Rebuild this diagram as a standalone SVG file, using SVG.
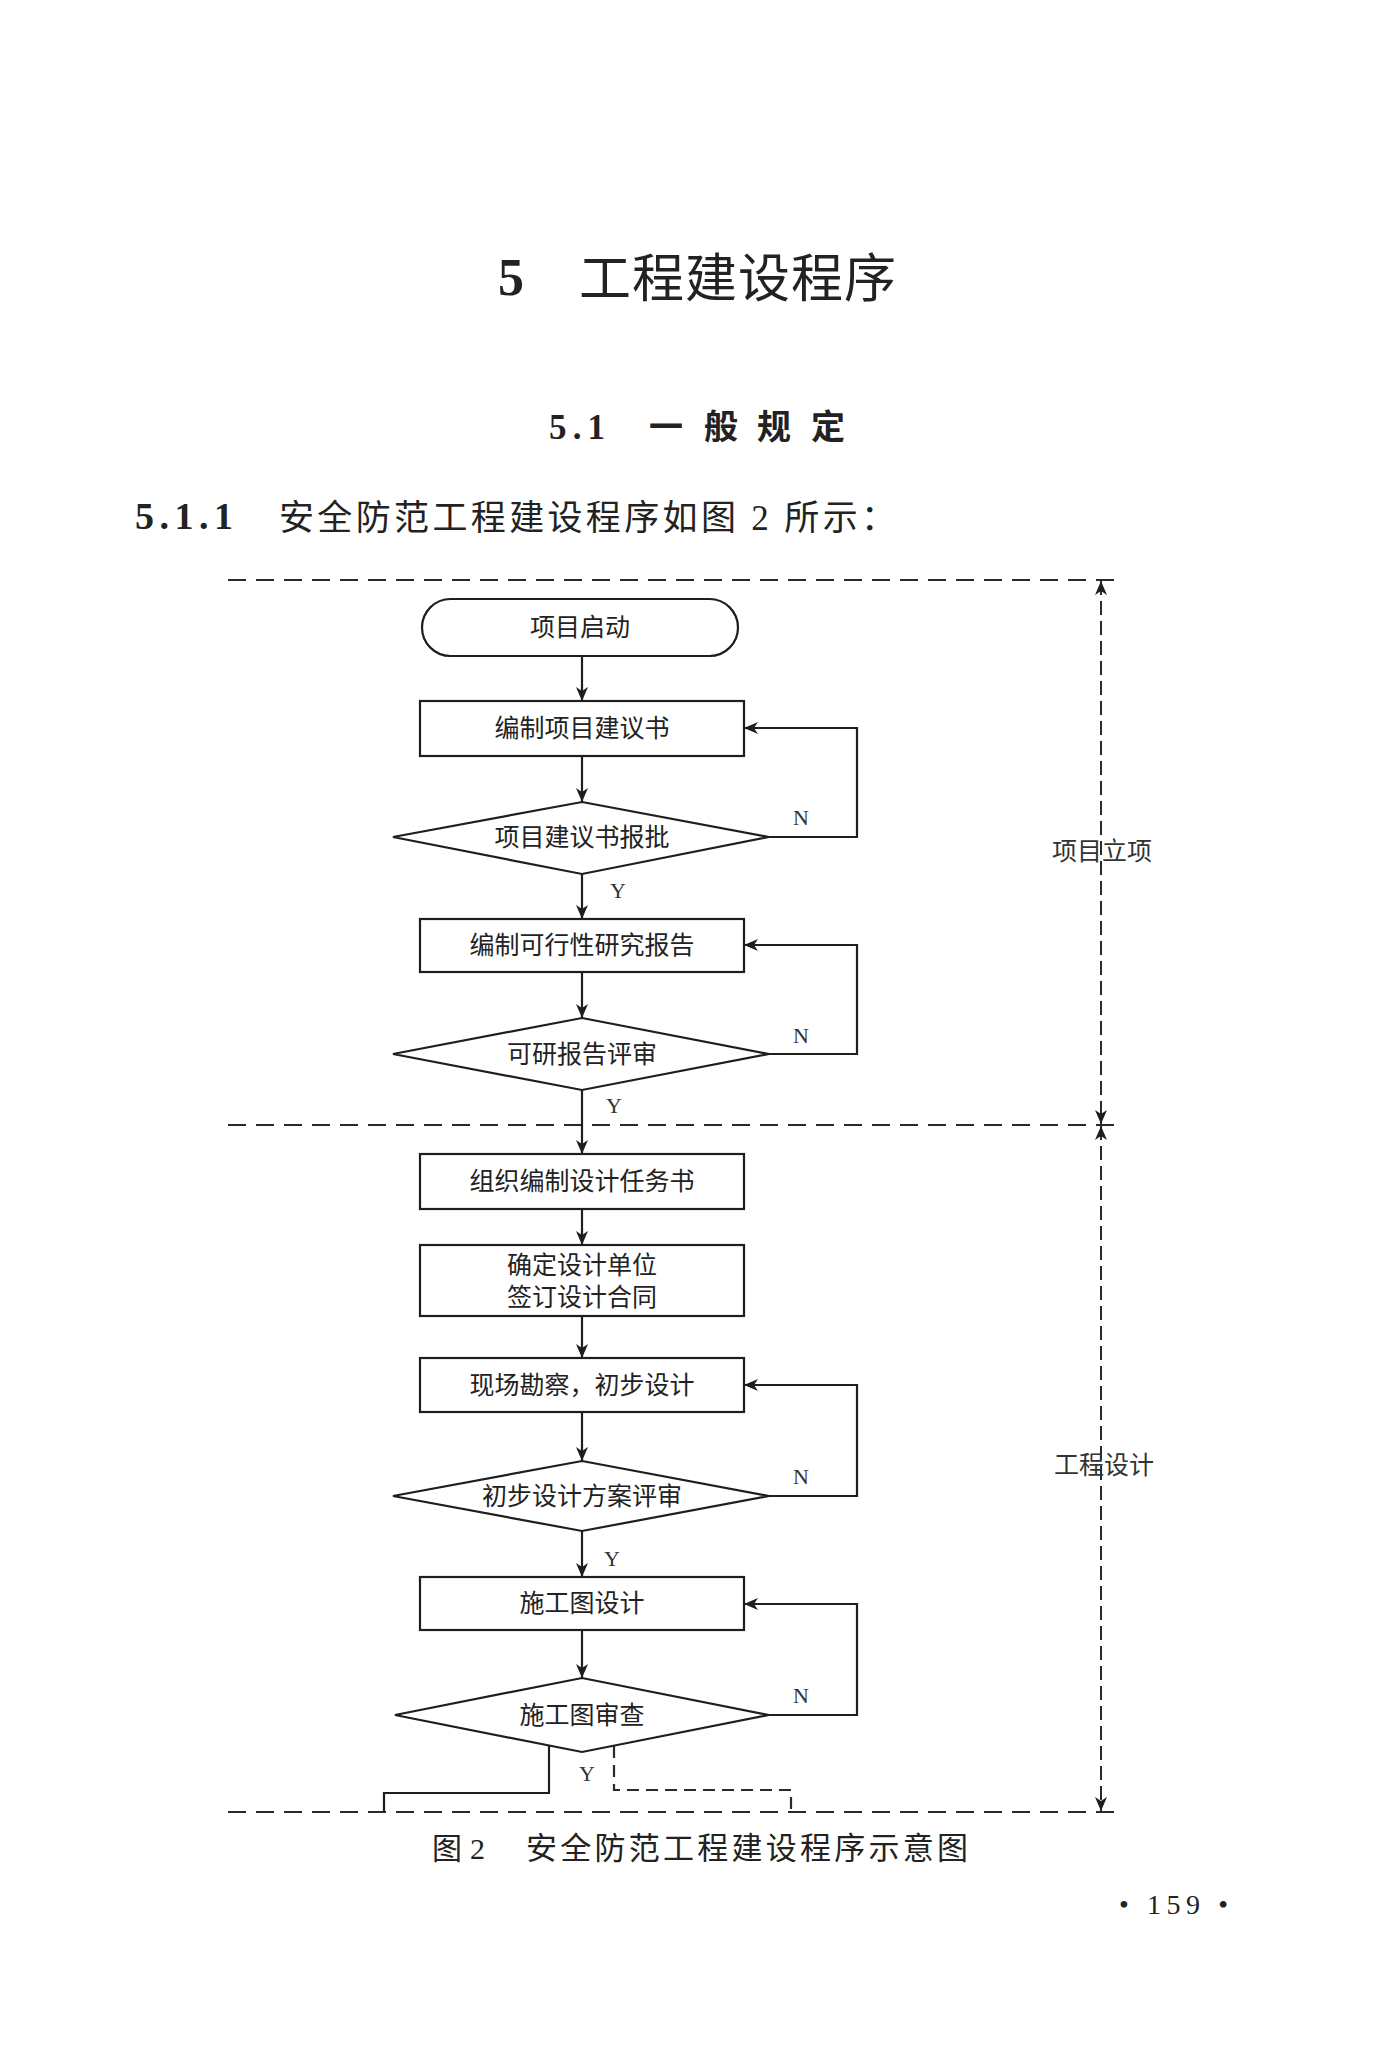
<svg xmlns="http://www.w3.org/2000/svg" width="1400" height="2048" viewBox="0 0 1400 2048">
<style>
.bg{fill:#ffffff}
.shape{fill:none;stroke:#1e1e1e;stroke-width:2.2}
.line{fill:none;stroke:#1e1e1e;stroke-width:2.2}
.dashH{fill:none;stroke:#2a2a2a;stroke-width:2.2;stroke-dasharray:18 10}
.dashV{fill:none;stroke:#2a2a2a;stroke-width:2;stroke-dasharray:14 6}
.dashS{fill:none;stroke:#2a2a2a;stroke-width:2.2;stroke-dasharray:12 7}
.t{font-family:"Liberation Serif","Noto Sans CJK SC",serif;fill:#222}
.box{font-size:25px;text-anchor:middle}
.yn{font-family:"Liberation Serif",serif;font-size:22px;fill:#333}
.side{font-size:25px;text-anchor:middle;fill:#333}
</style>
<defs>
<marker id="arr" markerUnits="userSpaceOnUse" markerWidth="15" markerHeight="12" refX="14" refY="6" orient="auto">
<path d="M0,0 L14,6 L0,12 L4,6 Z" fill="#1e1e1e"/>
</marker>
<marker id="arr2" markerUnits="userSpaceOnUse" markerWidth="15" markerHeight="12" refX="14" refY="6" orient="auto-start-reverse">
<path d="M0,0 L14,6 L0,12 L4,6 Z" fill="#1e1e1e"/>
</marker>
</defs>
<rect class="bg" x="0" y="0" width="1400" height="2048"/>

<g id="heading">
<text class="t" x="498" y="295" font-size="52" font-weight="bold">5</text>
<text class="t" x="579" y="297" font-size="52" textLength="317" lengthAdjust="spacing">工程建设程序</text>
<text class="t" x="549" y="439" font-size="35" font-weight="bold" textLength="56" lengthAdjust="spacing">5.1</text>
<text class="t" x="666" y="439" font-size="34" font-weight="bold" text-anchor="middle">一</text>
<text class="t" x="721" y="439" font-size="34" font-weight="bold" text-anchor="middle">般</text>
<text class="t" x="774" y="439" font-size="34" font-weight="bold" text-anchor="middle">规</text>
<text class="t" x="828" y="439" font-size="34" font-weight="bold" text-anchor="middle">定</text>
<text class="t" x="135" y="529" font-size="38" font-weight="bold" textLength="98" lengthAdjust="spacing">5.1.1</text>
<text class="t" x="279" y="530" font-size="35" textLength="617" lengthAdjust="spacing">安全防范工程建设程序如图 2 所示：</text>
</g>

<g id="frame">
<line class="dashH" x1="228" y1="580" x2="1116" y2="580"/>
<line class="dashH" x1="228" y1="1125" x2="1116" y2="1125"/>
<line class="dashH" x1="228" y1="1812" x2="1116" y2="1812"/>
</g>

<g id="connectors">
<line class="line" x1="582" y1="656" x2="582" y2="701" marker-end="url(#arr)"/>
<line class="line" x1="582" y1="756" x2="582" y2="802" marker-end="url(#arr)"/>
<line class="line" x1="582" y1="874" x2="582" y2="919" marker-end="url(#arr)"/>
<line class="line" x1="582" y1="972" x2="582" y2="1018" marker-end="url(#arr)"/>
<line class="line" x1="582" y1="1090" x2="582" y2="1154" marker-end="url(#arr)"/>
<line class="line" x1="582" y1="1209" x2="582" y2="1245" marker-end="url(#arr)"/>
<line class="line" x1="582" y1="1316" x2="582" y2="1358" marker-end="url(#arr)"/>
<line class="line" x1="582" y1="1412" x2="582" y2="1461" marker-end="url(#arr)"/>
<line class="line" x1="582" y1="1531" x2="582" y2="1577" marker-end="url(#arr)"/>
<line class="line" x1="582" y1="1630" x2="582" y2="1678" marker-end="url(#arr)"/>
<polyline class="line" points="769,837 857,837 857,728 744,728" marker-end="url(#arr)"/>
<polyline class="line" points="769,1054 857,1054 857,945 744,945" marker-end="url(#arr)"/>
<polyline class="line" points="769,1496 857,1496 857,1385 744,1385" marker-end="url(#arr)"/>
<polyline class="line" points="769,1715 857,1715 857,1604 744,1604" marker-end="url(#arr)"/>
<polyline class="line" points="549,1746 549,1793 384,1793 384,1812"/>
<polyline class="dashS" points="614,1746 614,1790 791,1790 791,1812"/>
<line class="dashV" x1="1101" y1="581" x2="1101" y2="1124" marker-start="url(#arr2)" marker-end="url(#arr2)"/>
<line class="dashV" x1="1101" y1="1126" x2="1101" y2="1811" marker-start="url(#arr2)" marker-end="url(#arr2)"/>
</g>

<g id="labels">
<text class="yn" x="793" y="825">N</text>
<text class="yn" x="793" y="1043">N</text>
<text class="yn" x="793" y="1484">N</text>
<text class="yn" x="793" y="1703">N</text>
<text class="yn" x="610" y="898">Y</text>
<text class="yn" x="606" y="1113">Y</text>
<text class="yn" x="604" y="1566">Y</text>
<text class="yn" x="579" y="1781">Y</text>
<text class="t side" x="1102" y="860">项目立项</text>
<text class="t side" x="1104" y="1474">工程设计</text>
</g>

<g id="n-start">
<rect class="shape" x="422" y="599" width="316" height="57" rx="28.5" ry="28.5"/>
<text class="t box" x="580" y="636">项目启动</text>
</g>
<g id="n-proposal">
<rect class="shape" x="420" y="701" width="324" height="55"/>
<text class="t box" x="582" y="737">编制项目建议书</text>
</g>
<g id="n-proposal-approve">
<polygon class="shape" points="582,802 769,837 582,874 393,837"/>
<text class="t box" x="582" y="846">项目建议书报批</text>
</g>
<g id="n-feasibility">
<rect class="shape" x="420" y="919" width="324" height="53"/>
<text class="t box" x="582" y="954">编制可行性研究报告</text>
</g>
<g id="n-feasibility-review">
<polygon class="shape" points="582,1018 769,1054 582,1090 393,1054"/>
<text class="t box" x="582" y="1063">可研报告评审</text>
</g>
<g id="n-task">
<rect class="shape" x="420" y="1154" width="324" height="55"/>
<text class="t box" x="582" y="1190">组织编制设计任务书</text>
</g>
<g id="n-contract">
<rect class="shape" x="420" y="1245" width="324" height="71"/>
<text class="t box" x="582" y="1274">确定设计单位</text>
<text class="t box" x="582" y="1306">签订设计合同</text>
</g>
<g id="n-survey">
<rect class="shape" x="420" y="1358" width="324" height="54"/>
<text class="t box" x="582" y="1394">现场勘察，初步设计</text>
</g>
<g id="n-prelim-review">
<polygon class="shape" points="582,1461 769,1496 582,1531 393,1496"/>
<text class="t box" x="582" y="1505">初步设计方案评审</text>
</g>
<g id="n-drawing">
<rect class="shape" x="420" y="1577" width="324" height="53"/>
<text class="t box" x="582" y="1612">施工图设计</text>
</g>
<g id="n-drawing-review">
<polygon class="shape" points="582,1678 769,1715 582,1752 395,1715"/>
<text class="t box" x="582" y="1724">施工图审查</text>
</g>

<g id="caption">
<text class="t" x="432" y="1859" font-size="30">图</text>
<text class="t" x="470" y="1859" font-size="30">2</text>
<text class="t" x="526" y="1859" font-size="31" textLength="442" lengthAdjust="spacing">安全防范工程建设程序示意图</text>
<text class="t" x="1119" y="1914" font-size="28" textLength="109" lengthAdjust="spacing">• 159 •</text>
</g>
</svg>
